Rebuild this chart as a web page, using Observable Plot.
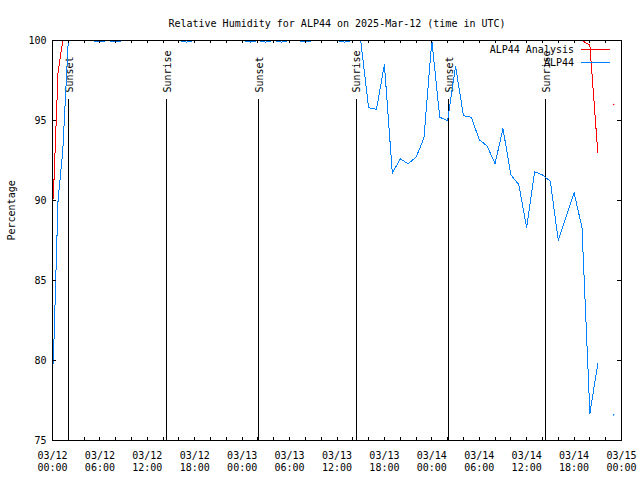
<!DOCTYPE html>
<html>
<head>
<meta charset="utf-8">
<script src="https://cdn.jsdelivr.net/npm/d3@7"></script>
<script src="https://cdn.jsdelivr.net/npm/@observablehq/plot@0.6"></script>
<style>
  html, body { margin: 0; padding: 0; background: white; }
</style>
</head>
<body>
<div id="chart"></div>
<script>
const title = "Relative Humidity for ALP44 on 2025-Mar-12 (time in UTC)";
const yLabel = "Percentage";
const startTime = "2025-03-12T00:00:00Z";
const endTime = "2025-03-15T00:00:00Z";

// observation times, hours after 2025-03-12 00:00 UTC
const hours = [0.1, 0.7, 1.3, 2, 3, 4, 5, 6, 7, 8, 9, 10, 11, 12, 13, 14, 15, 16, 17, 18, 19,
  20, 21, 22, 23, 24, 25, 26, 27, 28, 29, 30, 31, 32, 33, 34, 35, 36, 37, 38, 39,
  40, 41, 42, 43, 44, 45, 46, 47, 48, 49, 50, 51, 52, 53, 54, 55, 56, 57, 58, 59,
  60, 61, 62, 63, 64, 65, 66, 67, 68, 69, 70, 71];

const analysis = [90.1, 98.0, 100, 100, 100, 100, 100, 100, 100, 100, 100, 100, 100, 100, 100, 100, 100, 100, 100, 100, 100,
  100, 100, 100, 100, 100, 100, 100, 100, 100, 100, 100, 100, 100, 100, 100, 100, 100, 100, 100, 100,
  100, 100, 100, 100, 100, 100, 100, 100, 100, 100, 100, 100, 100, 100, 100, 100, 100, 100, 100, 100,
  100, 100, 100, 100, 100, 100, 100, 100, 99.7, 93.0, null, 96.0];

const alp44 = [79.8, 90.0, 93.1, 100, 100, 100, 100, 99.9, 100, 99.9, 100, 100, 100, 100, 100, 100, 100, 100, 99.9, 100, 100,
  100, 100, 100, 100, 100, 99.9, 100, 99.9, 100, 99.9, 100, 100, 99.9, 100, 100, 100, 100, 99.9, 100, 100,
  95.8, 95.7, 98.5, 91.7, 92.6, 92.3, 92.7, 93.9, 100, 95.2, 95.0, 98.4, 95.3, 95.2, 93.8, 93.4, 92.3, 94.5, 91.6, 91.0,
  88.3, 91.8, 91.6, 91.2, 87.5, 89.0, 90.5, 88.3, 76.7, 79.8, null, 76.6];

const seriesNames = ["ALP44 Analysis", "ALP44"];
const seriesColors = ["#ff0000", "#0080ff"];

const eventLabels = ["Sunset", "Sunrise", "Sunset", "Sunrise", "Sunset", "Sunrise"];
const eventTimes = ["2025-03-12T02:04:00Z", "2025-03-12T14:28:00Z", "2025-03-13T02:05:00Z",
  "2025-03-13T14:27:00Z", "2025-03-14T02:06:00Z", "2025-03-14T14:25:00Z"];

const yTicks = [75, 80, 85, 90, 95, 100];
const labelStepHours = 6;
const minorStepHours = 2;

// ---- build tables ----
const t0 = new Date(startTime).getTime();
const toDate = h => new Date(t0 + h * 3600e3);
const rows = [];
[analysis, alp44].forEach((vals, si) => {
  vals.forEach((v, i) => rows.push({series: seriesNames[si], time: toDate(hours[i]), value: v,
    isolated: v != null && (i === 0 || vals[i - 1] == null) && (i === vals.length - 1 || vals[i + 1] == null)}));
});
const events = eventLabels.map((l, i) => ({label: l, time: new Date(eventTimes[i])}));
const labelTicks = d3.range(0, 73, labelStepHours).map(toDate);
const minorTicks = d3.range(0, 73, minorStepHours).map(toDate);
const color = d => seriesColors[seriesNames.indexOf(d)];

function legend(index, scales, values, dimensions) {
  const g = d3.create("svg:g").attr("font-family", "DejaVu Sans Mono").attr("font-size", 10);
  const xr = dimensions.width - dimensions.marginRight;
  seriesNames.forEach((name, i) => {
    const y = dimensions.marginTop + 9.5 + i * 13;
    g.append("text").attr("x", xr - 47).attr("y", y).attr("dy", "0.32em")
      .attr("text-anchor", "end").attr("fill", "black").text(name);
    g.append("line").attr("x1", xr - 40).attr("x2", xr - 11).attr("y1", y).attr("y2", y)
      .attr("stroke", seriesColors[i]).attr("stroke-width", 1).attr("shape-rendering", "crispEdges");
  });
  return g.node();
}

const chart = Plot.plot({
  width: 640,
  height: 480,
  marginLeft: 52,
  marginRight: 19,
  marginTop: 40,
  marginBottom: 40,
  style: {fontFamily: "DejaVu Sans Mono", fontSize: "10px", background: "white", color: "black", overflow: "visible"},
  x: {type: "utc", domain: [new Date(startTime), new Date(endTime)]},
  y: {domain: [75, 100]},
  marks: [
    Plot.ruleX(events, {x: "time", insetTop: 59, stroke: "black", strokeWidth: 1, shapeRendering: "crispEdges"}),
    Plot.text(events, {x: "time", text: "label", frameAnchor: "top", dy: 52, dx: -3, rotate: -90, textAnchor: "start", fill: "black"}),
    Plot.line(rows, {x: "time", y: "value", z: "series", stroke: d => color(d.series), strokeWidth: 1, shapeRendering: "crispEdges", clip: true}),
    Plot.dot(rows.filter(d => d.isolated), {x: "time", y: "value", r: 0.8, fill: d => color(d.series), stroke: null}),
    Plot.tickX(minorTicks, {x: d => d, insetTop: 397, stroke: "black", shapeRendering: "crispEdges"}),
    Plot.tickX(minorTicks, {x: d => d, insetBottom: 397, stroke: "black", shapeRendering: "crispEdges"}),
    Plot.tickY(yTicks, {y: d => d, insetRight: 565, stroke: "black", shapeRendering: "crispEdges"}),
    Plot.tickY(yTicks, {y: d => d, insetLeft: 565, stroke: "black", shapeRendering: "crispEdges"}),
    Plot.frame({stroke: "black", shapeRendering: "crispEdges"}),
    Plot.axisX({ticks: labelTicks, tickSize: 0, tickPadding: 10, tickFormat: d3.utcFormat("%m/%d\n%H:%M"), lineHeight: 1.2, label: null}),
    Plot.axisY({ticks: yTicks, tickSize: 0, tickPadding: 6, label: null}),
    Plot.text([yLabel], {frameAnchor: "left", dx: -41, rotate: -90, fill: "black"}),
    Plot.text([title], {frameAnchor: "top", dy: -21, fill: "black"}),
    legend
  ]
});
document.getElementById("chart").appendChild(chart);
</script>
</body>
</html>
